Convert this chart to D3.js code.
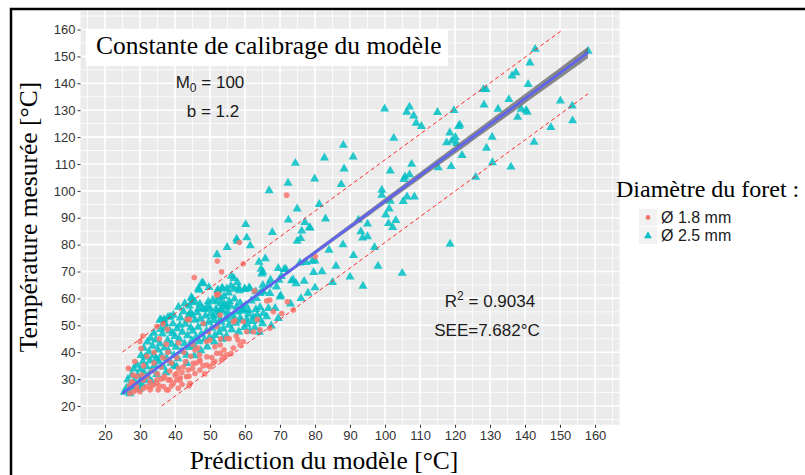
<!DOCTYPE html>
<html>
<head>
<meta charset="utf-8">
<script src="https://cdn.jsdelivr.net/npm/d3@7"></script>
<style>
  body { margin: 0; background: #fff; }
  svg { display: block; }
</style>
</head>
<body>
<svg id="chart"></svg>
<script>
// Scatter of measured vs predicted temperature, two drill diameters

const width = 805;
const height = 475;

const xTicks = [20, 30, 40, 50, 60, 70, 80, 90, 100, 110, 120, 130, 140, 150, 160];
const yTicks = [20, 30, 40, 50, 60, 70, 80, 90, 100, 110, 120, 130, 140, 150, 160];
const seriesLabels = ['Ø 1.8 mm', 'Ø 2.5 mm'];

// regression fit
const fitIntercept = 0.88;
const fitSlope = 0.953;
const fitRange = [25, 158];
const see = 7.682;
const bandParams = [0.45, 0.018, 45]; // se at centre, growth, centre x

// Ø 2.5 mm (triangles)
const pointsLarge = [
  [99.9,130.5],[142.9,152.7],[141.4,147.6],[137.4,144],[136.3,142.8],[140.9,139.6],[128.9,137.7],[128.1,137.7],
  [135.4,134],[128.3,132],[132.3,130.4],[138.9,130.4],[140.3,130],[140.6,129.3],[137.9,127.4],[150.1,133.5],
  [153.5,131.6],[153.6,126.1],[147.4,123.6],[142.6,118.1],[130.6,120],[129,115.9],[130.7,110.5],[136,108.9],
  [125.9,105.1],[158,152],[121.4,124.5],[121,124],[120.1,119.9],[119.1,118.6],[117.6,117.9],[118.5,121.6],
  [120.4,117.7],[122,113.2],[115.2,108.6],[118.9,109.1],[115,129.2],[119.7,129.9],[106.2,129.3],[107,131.2],
  [108.2,127.9],[108.9,125.2],[110.4,124],[102.5,119.6],[107.6,109.9],[101.5,107.4],[105.7,105.2],[107,106],
  [118.6,80.2],[104.9,69.4],
  [88.1,117],[82.7,112.3],[90.9,112.6],[74.4,110.3],[88.3,108.2],[79.9,104.5],[72.3,102.9],[87.5,102.4],
  [105.4,104.3],[66.9,100.1],[99.1,100.3],[99.1,98.4],[106.3,97.8],[108.4,97.8],[105.2,96.1],[101.5,96.2],
  [81.2,95],[74.9,93.3],[101.2,93.3],[100.2,91.1],[103.1,89],[102.2,86.4],[101,87.9],[72.4,89.2],[83,89.6],
  [92.4,89.2],[95,87.7],[60.2,87.5],[77.1,88.3],[78.6,86.2],[76.2,85.1],[75.9,82.3],[67.8,84.6],[57.6,82.1],
  [60.5,82.6],[93.1,84.8],[93.6,82.5],
  [84,78],[88,80],[91,76],[95,83],[97,79],[86,72],[82,70],[90,68],[93.7,64.6],[98,72],[80,74],[85,66],
  [78.4,86.3],[74.9,81.3],[61.5,79.6],[57.8,81.3],[54.9,79],[52,76.3],[65.8,74.8],[64,73.5],[64.6,70.9],
  [64.8,69.1],[65.1,69.8],[69.5,71.2],[71.2,70.8],[71.7,70.8],[70.4,68.2],[77.4,73.4],[79.2,73.9],[75.7,73.2],
  [79.6,69.7],[56.1,68.3],[56.8,67.5],[48.1,65.5],[46.7,63.6],[52.3,62.9],[53.6,63.8],[54.8,63.6],[56,64.6],
  [56.9,63.5],[44.7,60.4],[60,63.4],[61.2,64],[65.1,64.9],[64.9,62.5],[67.3,66.8],[69.7,66.8],[70.2,61],
  [73.3,66.6],[74.6,65.5],[76.9,66.4],[78,62],[80,64],[76,60],[73,58],[69,64.3],[67.1,61.9],[64.3,61.9],[63.3,60],
  [44.8,60],[44.9,58.5],[44.4,54.8],[36,52],[36.9,52.2],[38.6,53.2],[52.2,63.1],[53.3,63.6],[55.3,62.1],
  [54,60.8],[52.5,61],[51.8,58.8],[53.1,58.2],[58.4,62.9],[59.9,63.6],[61.4,63.6],[63.1,62.5],[65.2,62.5],
  [66.7,65],[46.7,56.1],[48.6,55.8],[50,56.3],[51.9,55.1],[52.9,55.7],[54.9,56.8],[57.6,56.9],[59,55.3],
  [61,55.6],[63.1,55.9],[64.3,56.7],[50.9,53.2],[52.9,52],[54.8,53],[56.7,51.9],[58.6,52.6],[60.5,52.2],
  [62.4,53],[64.3,52],[66.7,56.3],[65.2,54.4],
  [47.7,65.8],[49.7,64.1],[46.9,63.1],[57.8,66],[58.2,64],[45.7,58.8],[47.1,57.9],[49.5,58.8],[53.8,57.2],
  [55.5,58.9],[59.7,55.9],[35.7,52],[37.1,50.7],[39.5,53.8],[41.4,50.1],[43.5,52],[44.9,53.8],
  [25.5,25.2],[26.2,26.8],[26.8,25.9],[27.3,28.1],[27.9,27],[28.4,29.6],[28.8,26.6],[29.3,31.2],[29.7,28.4],
  [30.1,33.5],[26.5,29.8],[27.6,31.5],[28.2,33.8],[29.1,35.2],[30.4,30.1],[29.8,26.2],[27.1,24.6],[30.6,27.8],
  [30.8,36.4],[31.2,32.3],[31.5,38.2],[31.9,34.6],[32.3,30.9],[32.6,40.1],[32.9,36.8],[33.3,33.2],[33.6,42.3],
  [33.9,38.7],[34.2,35.1],[34.5,44.6],[34.8,31.8],[35.1,40.9],[31.1,41.5],[32.1,43.8],[33,45.2],[34,47.1],
  [34.7,37.6],[31.7,29.4],[33.4,28.9],[30.3,38.8],
  [35.4,36.5],[35.7,43.2],[36.1,38.9],[36.4,46.8],[36.7,34.5],[37,41.6],[37.3,49.2],[37.6,37.7],[37.9,44.4],
  [38.2,40.3],[38.5,47.9],[38.8,35.9],[39.1,43],[39.4,50.6],[39.7,38.8],[40,45.9],[35.9,48.5],[36.8,51.1],
  [38,53],[39.3,47],[37.4,32.4],[39.8,34.9],
  [40.3,41.9],[40.6,48.8],[40.9,37.6],[41.2,44.9],[41.5,52.8],[41.8,40.3],[42.1,47.5],[42.4,55.1],[42.7,43.2],
  [43,50.4],[43.3,38.9],[43.6,46.2],[43.9,53.6],[44.2,41.8],[44.5,49.1],[44.8,44.3],[41,56.8],[42.8,58.1],
  [44.1,57.2],[43.4,35.8],[40.5,34.6],
  [45.1,47.8],[45.4,42.5],[45.7,51.9],[46,45.6],[46.3,54.7],[46.6,49.3],[46.9,43.9],[47.2,52.4],[47.5,46.7],
  [47.8,56.2],[48.1,50.6],[48.4,44.8],[48.7,53.5],[49,47.9],[49.3,57.1],[49.6,51.2],[49.9,45.5],[45.5,38.7],
  [47.4,40.6],[49.2,42],
  [50.2,54.3],[50.5,49],[50.8,59.4],[51.1,51.8],[51.4,46.3],[51.7,56],[52,49.9],[52.3,53.8],[52.6,47.4],
  [52.9,60.2],[53.2,51.2],[53.5,55.4],[53.8,48.7],[54.1,57.8],[54.4,52.3],[54.7,46],[55,54.9],[51.2,43.8],[53.6,44.9],
  [55.4,50.1],[55.8,57.3],[56.2,48.4],[56.6,53.5],[57,59.8],[57.4,50.8],[57.8,55],[58.2,47.6],[58.6,58.3],
  [59,51.7],[59.4,55.9],[59.8,49.2],[60.2,57.5],[60.6,50.3],[61,54.2],[61.4,47.8],[61.8,59.1],[62.2,51.5],
  [62.8,49.1],[63.5,53.8],[64.1,47.5],[65,50.6],[66.2,53.2],[68.6,56.3],[69.5,52.6],[70,60.6],[73.8,66.8],[67.5,49.8]
];

// Ø 1.8 mm (circles)
const pointsSmall = [
  [71.9,98.4],[58.4,80.8],[52.1,73.9],[53.3,69.9],[45.5,67.8],[59.5,72.9],[80.1,75.6],[52,61.3],[62.7,62.8],
  [36.6,50.5],[44.1,52.2],[51.9,61.5],[66.2,59.1],[63.5,52.2],[52.9,53.8],[57.1,51.8],[30.8,46],[30.3,41.4],
  [34.8,49.5],[37.8,48.5],[48.1,50.7],[49.5,47.6],[51.9,49.5],[52.4,61.6],[43.5,52.2],
  [72.1,58.8],[68.1,55.1],[67.1,59.4],[73.8,55.7],[70.5,54.4],[62.4,47.6],[64.3,48.3],[67.1,48.9],[59.5,51.3],
  [56.7,51.3],[54.8,45.2],[53.8,38.3],[52.9,39.6],[50.9,35.9],[49.1,35.2],[47.1,37.1],[45.7,40.8],[42.4,34.6],
  [40.5,32.1],[38.6,29.7],[36.7,30.3],[34.8,28.4],[32.9,29],[31,26.6],[29,26],[27.1,24.7],[27.6,29],[26.7,34],
  [44.3,28.4],[40.5,29.7],[38.1,26],
  [50,44.5],[51.4,42],[52.9,42.7],[54,40.8],[54.8,39],[53.3,37.1],[51.4,36.5],[50,34.6],[47.1,33.4],[45.7,32.1],
  [43.3,30.9],[41.4,29.7],[39.5,28.4],[38.1,29.7],[36.7,27.2],[34.8,29.7],[33.8,27.8],[32.9,26],[30.9,29.7],
  [29,27.2],[28.1,25.3],[30,25.3],[31.9,27.2],[35.2,26],[37.6,26],[40.9,26.6],[43.8,33.4],[45.2,35.9],
  [47.1,36.5],[49.1,38.3],[51.9,39.6],[56.7,41.5],[58.6,42.7],[60.5,47.6],[59.5,43.9],
  [32,31],[33.5,33],[35,32],[36,34.5],[37,31],[38.5,33],[39,36],[40,31.5],[41,34],[42,32.5],[43,36.5],[44,31],
  [45,34],[46,36],[47,39],[48,35],[34,36],[36.5,38],[38,40],[40.5,38],[42.5,40],[44.5,38.5],[46.5,41.5],[31,35],
  [29,31],[28,28.5],[33,27],[35.5,27.5],[42,28],[30.5,31.5],[39,27.5],[44,27.5],[41.5,30.5],[36,30],[48.5,32],
  [50.5,38],[55.5,45],[57.5,46],[53,45],[56,39.5],[58,44.5],[38,37],[34,40],[32,38.5],[30,44],[28.5,36.5],
  [37.5,43],[35.5,45],[41,43.5],[45,43],[49,44],[28,31.5],[27,27.5]
];

const colorSmall = '#F8766D';
const colorLarge = '#00BFC4';

const svg = d3.select('#chart')
  .attr('width', width)
  .attr('height', height);

// ggplot-like expansion: 5% of 20..160
const x = d3.scaleLinear().domain([13, 167]).range([80.5, 619.5]);
const y = d3.scaleLinear().domain([13, 167]).range([424.8, 10.7]);

const panel = { x0: x(13), x1: x(167), y0: y(167), y1: y(13) };

// outer frame
svg.append('rect')
  .attr('x', 11).attr('y', 9)
  .attr('width', width).attr('height', height)
  .attr('fill', 'none')
  .attr('stroke', '#000')
  .attr('stroke-width', 2.5);

svg.append('defs').append('clipPath').attr('id', 'panelClip')
  .append('rect')
  .attr('x', panel.x0).attr('y', panel.y0)
  .attr('width', panel.x1 - panel.x0).attr('height', panel.y1 - panel.y0);

svg.append('rect')
  .attr('x', panel.x0).attr('y', panel.y0)
  .attr('width', panel.x1 - panel.x0).attr('height', panel.y1 - panel.y0)
  .attr('fill', '#EBEBEB');

// grid
const minorTicks = d3.range(15, 166, 10);
const grid = svg.append('g');
grid.selectAll('.vminor').data(minorTicks).enter().append('line')
  .attr('x1', d => x(d)).attr('x2', d => x(d))
  .attr('y1', panel.y0).attr('y2', panel.y1)
  .attr('stroke', '#fff').attr('stroke-width', 0.8);
grid.selectAll('.hminor').data(minorTicks).enter().append('line')
  .attr('y1', d => y(d)).attr('y2', d => y(d))
  .attr('x1', panel.x0).attr('x2', panel.x1)
  .attr('stroke', '#fff').attr('stroke-width', 0.8);
grid.selectAll('.vmajor').data(xTicks).enter().append('line')
  .attr('x1', d => x(d)).attr('x2', d => x(d))
  .attr('y1', panel.y0).attr('y2', panel.y1)
  .attr('stroke', '#fff').attr('stroke-width', 1.6);
grid.selectAll('.hmajor').data(yTicks).enter().append('line')
  .attr('y1', d => y(d)).attr('y2', d => y(d))
  .attr('x1', panel.x0).attr('x2', panel.x1)
  .attr('stroke', '#fff').attr('stroke-width', 1.6);

// axes
const xAxis = svg.append('g')
  .attr('transform', `translate(0,${panel.y1})`)
  .call(d3.axisBottom(x).tickValues(xTicks).tickSize(3).tickPadding(3));
const yAxis = svg.append('g')
  .attr('transform', `translate(${panel.x0},0)`)
  .call(d3.axisLeft(y).tickValues(yTicks).tickSize(3).tickPadding(2));
[xAxis, yAxis].forEach(a => {
  a.select('.domain').remove();
  a.selectAll('.tick line').attr('stroke', '#333');
  a.selectAll('.tick text')
    .attr('fill', '#333')
    .style('font-family', 'Liberation Sans, Arial, sans-serif')
    .style('font-size', '13px');
});

const plot = svg.append('g').attr('clip-path', 'url(#panelClip)');

// points
const triangle = d3.symbol().type(d3.symbolTriangle).size(36);
plot.append('g').selectAll('path')
  .data(pointsLarge).enter().append('path')
  .attr('d', triangle)
  .attr('transform', d => `translate(${x(d[0])},${y(d[1])})`)
  .attr('fill', colorLarge)
  .attr('fill-opacity', 0.85);

plot.append('g').selectAll('circle')
  .data(pointsSmall).enter().append('circle')
  .attr('cx', d => x(d[0]))
  .attr('cy', d => y(d[1]))
  .attr('r', 2.8)
  .attr('fill', colorSmall)
  .attr('fill-opacity', 0.85);

// confidence band + fit line
const fit = v => fitIntercept + fitSlope * v;
const se = v => Math.sqrt(bandParams[0] ** 2 + (bandParams[1] * (v - bandParams[2])) ** 2);
const fitXs = d3.range(fitRange[0], fitRange[1] + 0.01, 1);

plot.append('path')
  .datum(fitXs)
  .attr('d', d3.area()
    .x(d => x(d))
    .y0(d => y(fit(d) - se(d)))
    .y1(d => y(fit(d) + se(d))))
  .attr('fill', '#6e6e6e')
  .attr('fill-opacity', 0.8);

plot.append('line')
  .attr('x1', x(fitRange[0])).attr('y1', y(fit(fitRange[0])))
  .attr('x2', x(fitRange[1])).attr('y2', y(fit(fitRange[1])))
  .attr('stroke', '#5F63F5')
  .attr('stroke-width', 2.6);

// +/- 2 SEE lines, kept inside 20..160
[2 * see, -2 * see].forEach(off => {
  const xa = Math.max(fitRange[0], (20 - off - fitIntercept) / fitSlope);
  const xb = Math.min(fitRange[1], (160 - off - fitIntercept) / fitSlope);
  plot.append('line')
    .attr('x1', x(xa)).attr('y1', y(fit(xa) + off))
    .attr('x2', x(xb)).attr('y2', y(fit(xb) + off))
    .attr('stroke', '#FF2A2A')
    .attr('stroke-width', 1)
    .attr('stroke-dasharray', '4,3');
});

// annotation box
svg.append('rect')
  .attr('x', 86).attr('y', 29)
  .attr('width', 362).attr('height', 37)
  .attr('fill', '#fff');
svg.append('text')
  .attr('x', 96).attr('y', 54)
  .style('font-family', 'Liberation Serif, Times New Roman, serif')
  .style('font-size', '25.5px')
  .attr('fill', '#000')
  .text('Constante de calibrage du modèle');

const sans = 'Liberation Sans, Arial, sans-serif';
const m0 = svg.append('text')
  .attr('x', 210).attr('y', 88)
  .attr('text-anchor', 'middle')
  .style('font-family', sans).style('font-size', '17px')
  .attr('fill', '#1a1a1a');
m0.append('tspan').text('M');
m0.append('tspan').attr('dy', 4).style('font-size', '12px').text('0');
m0.append('tspan').attr('dy', -4).text(' = 100');

svg.append('text')
  .attr('x', 213).attr('y', 117)
  .attr('text-anchor', 'middle')
  .style('font-family', sans).style('font-size', '17px')
  .attr('fill', '#1a1a1a')
  .text('b = 1.2');

const r2 = svg.append('text')
  .attr('x', 490).attr('y', 307)
  .attr('text-anchor', 'middle')
  .style('font-family', sans).style('font-size', '17px')
  .attr('fill', '#1a1a1a');
r2.append('tspan').text('R');
r2.append('tspan').attr('dy', -7).style('font-size', '12px').text('2');
r2.append('tspan').attr('dy', 7).text(' = 0.9034');

svg.append('text')
  .attr('x', 487).attr('y', 336)
  .attr('text-anchor', 'middle')
  .style('font-family', sans).style('font-size', '17px')
  .attr('fill', '#1a1a1a')
  .text('SEE=' + see + '°C');

// axis titles
const serif = 'Liberation Serif, Times New Roman, serif';
svg.append('text')
  .attr('x', 324).attr('y', 469)
  .attr('text-anchor', 'middle')
  .style('font-family', serif).style('font-size', '25.5px')
  .text('Prédiction du modèle [°C]');
svg.append('text')
  .attr('transform', 'translate(37,217) rotate(-90)')
  .attr('text-anchor', 'middle')
  .style('font-family', serif).style('font-size', '25.5px')
  .text('Température mesurée [°C]');

// legend (title kept fully inside the page)
const legend = svg.append('g');
legend.append('text')
  .attr('x', 616).attr('y', 197)
  .style('font-family', serif).style('font-size', '24px')
  .text('Diamètre du foret :');

const keys = legend.selectAll('.key').data(seriesLabels).enter().append('g')
  .attr('transform', (d, i) => `translate(639,${209 + i * 18})`);
keys.append('rect')
  .attr('width', 18).attr('height', 17)
  .attr('fill', '#F2F2F2');
keys.each(function (d, i) {
  const g = d3.select(this);
  if (i === 0) {
    g.append('circle').attr('cx', 9).attr('cy', 8.5).attr('r', 2.4).attr('fill', colorSmall);
  } else {
    g.append('path').attr('d', d3.symbol().type(d3.symbolTriangle).size(26))
      .attr('transform', 'translate(9,9)').attr('fill', colorLarge);
  }
  g.append('text')
    .attr('x', 22).attr('y', 14)
    .style('font-family', sans).style('font-size', '16px')
    .attr('fill', '#1a1a1a')
    .text(d);
});
</script>
</body>
</html>
